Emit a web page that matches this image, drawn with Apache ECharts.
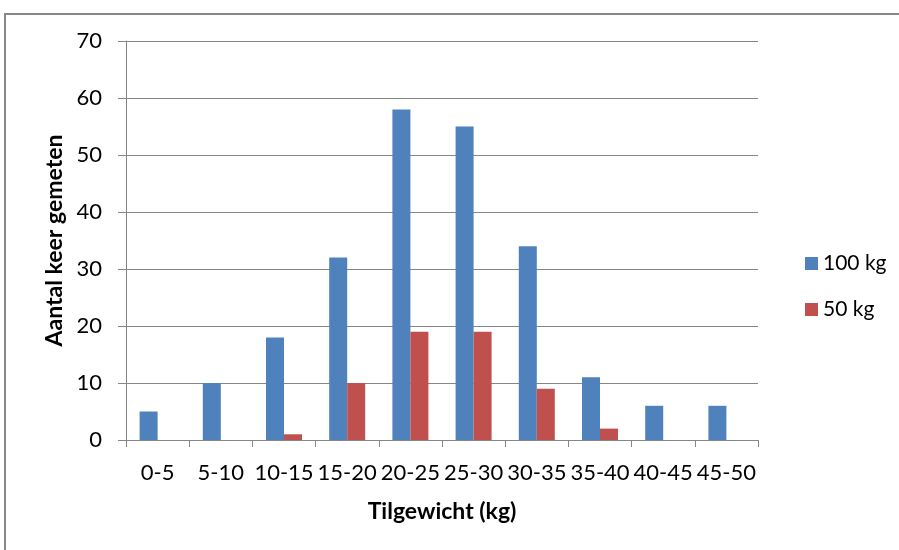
<!DOCTYPE html>
<html>
<head>
<meta charset="utf-8">
<script src="https://cdn.jsdelivr.net/npm/echarts@6/dist/echarts.min.js"></script>
<style>
  html, body { margin: 0; padding: 0; background: #fff; }
  #chart { width: 899px; height: 550px; }
</style>
</head>
<body>
<div id="chart"></div>
<script>
// Weight classes (kg) on the x axis
const categories = ['0-5', '5-10', '10-15', '15-20', '20-25', '25-30', '30-35', '35-40', '40-45', '45-50'];
// Number of measurements per class for each load
const load100 = [5, 10, 18, 32, 58, 55, 34, 11, 6, 6];
const load50 = [0, 0, 1, 10, 19, 19, 9, 2, 0, 0];
const seriesNames = ['100 kg', '50 kg'];

const font = 'Lato, "Open Sans", sans-serif';
const chart = echarts.init(document.getElementById('chart'));

chart.setOption({
  animation: false,
  textStyle: { fontFamily: font },
  graphic: [{
    type: 'rect',
    shape: { x: 5, y: 14, width: 1000, height: 1000 },
    style: { fill: 'none', stroke: '#888888', lineWidth: 2 },
    silent: true
  }],
  grid: { left: 126, right: 141, top: 41, bottom: 110 },
  legend: {
    orient: 'vertical',
    left: 800,
    top: 248,
    itemWidth: 13,
    itemHeight: 13,
    itemGap: 25,
    icon: 'rect',
    textStyle: { fontSize: 21, color: '#000', fontFamily: font },
    data: seriesNames
  },
  xAxis: {
    type: 'category',
    data: categories,
    name: 'Tilgewicht (kg)',
    nameLocation: 'middle',
    nameGap: 60,
    nameTextStyle: { fontSize: 23, fontWeight: 'bold', color: '#000' },
    axisLine: { lineStyle: { color: '#868686', width: 1 } },
    axisTick: { show: true, length: 7, alignWithLabel: false, lineStyle: { color: '#868686' } },
    axisLabel: { fontSize: 22, color: '#000', margin: 22, interval: 0 }
  },
  yAxis: {
    type: 'value',
    min: 0,
    max: 70,
    interval: 10,
    name: 'Aantal keer gemeten',
    nameLocation: 'middle',
    nameGap: 57,
    nameTextStyle: { fontSize: 23, fontWeight: 'bold', color: '#000' },
    axisLine: { show: true, lineStyle: { color: '#868686', width: 1 } },
    axisTick: { show: true, length: 8, lineStyle: { color: '#868686' } },
    axisLabel: { fontSize: 22, color: '#000', margin: 24 },
    splitLine: { lineStyle: { color: '#868686', width: 1 } }
  },
  series: [
    {
      name: seriesNames[0],
      type: 'bar',
      data: load100,
      barWidth: 18,
      barGap: '0%',
      itemStyle: { color: '#4F81BD' }
    },
    {
      name: seriesNames[1],
      type: 'bar',
      data: load50,
      barWidth: 18,
      barGap: '0%',
      itemStyle: { color: '#C0504D' }
    }
  ]
});
</script>
</body>
</html>
